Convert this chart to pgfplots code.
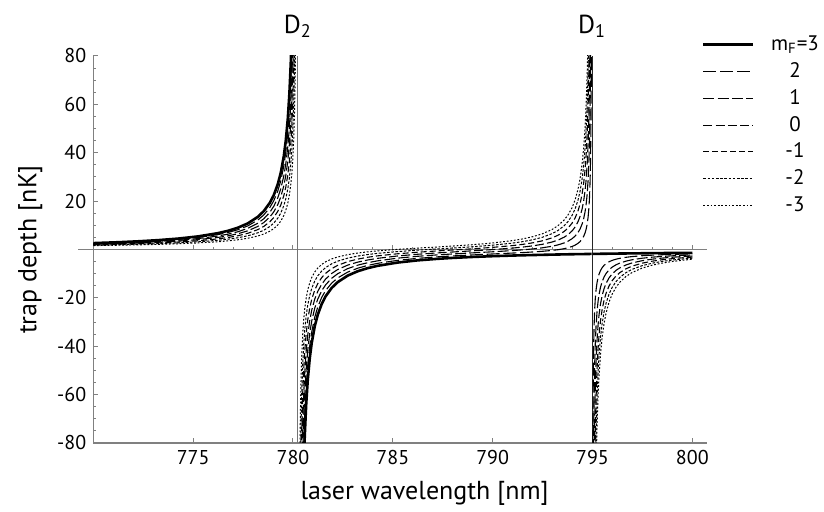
\documentclass[border=0pt]{standalone}
\usepackage{pgfplots}
\usepackage{pgfplotstable}
\usepackage{fontspec}
\setmainfont{PT Sans}
\pgfplotsset{compat=1.18}

% branch below the D2 line
\pgfplotstableread[row sep=\\]{
x m3 m2 m1 m0 n1 n2 n3\\
770.00 2.64 2.46 2.29 2.12 1.95 1.77 1.60\\
771.24 3.00 2.79 2.59 2.38 2.17 1.97 1.76\\
772.24 3.38 3.13 2.89 2.65 2.40 2.16 1.92\\
773.24 3.86 3.57 3.28 2.99 2.70 2.40 2.11\\
774.24 4.50 4.15 3.79 3.43 3.08 2.72 2.37\\
775.24 5.40 4.95 4.50 4.06 3.61 3.16 2.71\\
776.24 6.75 6.16 5.57 4.98 4.39 3.80 3.21\\
776.74 7.71 7.02 6.33 5.64 4.94 4.25 3.56\\
777.24 9.00 8.17 7.34 6.51 5.68 4.85 4.01\\
777.74 10.80 9.77 8.75 7.72 6.70 5.67 4.64\\
778.24 13.50 12.18 10.86 9.54 8.22 6.90 5.58\\
778.54 15.88 14.30 12.72 11.14 9.55 7.97 6.39\\
778.84 19.29 17.33 15.37 13.42 11.46 9.50 7.54\\
779.04 22.50 20.19 17.88 15.57 13.25 10.94 8.63\\
779.24 27.00 24.19 21.38 18.57 15.76 12.95 10.14\\
779.39 31.76 28.43 25.09 21.75 18.42 15.08 11.74\\
779.54 38.57 34.48 30.39 26.30 22.21 18.11 14.02\\
779.64 45.00 40.20 35.39 30.59 25.78 20.98 16.17\\
779.74 54.00 48.20 42.39 36.59 30.79 24.99 19.18\\
779.82 64.29 57.34 50.40 43.45 36.51 29.56 22.62\\
779.89 77.14 68.77 60.40 52.03 43.65 35.28 26.91\\
779.94 90.00 80.20 70.40 60.60 50.80 41.00 31.20\\
779.99 108.00 96.20 84.40 72.60 60.80 49.00 37.20\\
780.04 135.00 120.20 105.40 90.60 75.80 61.00 46.20\\
780.08 168.75 150.20 131.65 113.10 94.56 76.01 57.46\\
780.11 207.69 184.82 161.94 139.07 116.19 93.32 70.44\\
780.14 270.00 240.20 210.40 180.61 150.81 121.01 91.21\\
780.16 337.50 300.20 262.90 225.61 188.31 151.01 113.71\\
}\tabA

% branch between D2 and D1
\pgfplotstableread[row sep=\\]{
x m3 m2 m1 m0 n1 n2 n3\\
780.32 -337.50 -299.80 -262.09 -224.39 -186.68 -148.98 -111.27\\
780.34 -270.00 -239.79 -209.59 -179.39 -149.18 -118.98 -88.77\\
780.37 -207.69 -184.41 -161.13 -137.85 -114.56 -91.28 -68.00\\
780.40 -168.75 -149.79 -130.84 -111.88 -92.93 -73.97 -55.02\\
780.44 -135.00 -119.79 -104.59 -89.38 -74.17 -58.97 -43.76\\
780.49 -108.00 -95.79 -83.59 -71.38 -59.17 -46.97 -34.76\\
780.54 -90.00 -79.79 -69.59 -59.38 -49.17 -38.96 -28.75\\
780.59 -77.14 -68.36 -59.58 -50.80 -42.02 -33.24 -24.46\\
780.66 -64.29 -56.93 -49.58 -42.23 -34.88 -27.52 -20.17\\
780.74 -54.00 -47.79 -41.58 -35.37 -29.16 -22.95 -16.74\\
780.84 -45.00 -39.79 -34.58 -29.36 -24.15 -18.94 -13.73\\
780.94 -38.57 -34.07 -29.57 -25.07 -20.57 -16.07 -11.57\\
781.09 -31.76 -28.02 -24.27 -20.53 -16.78 -13.04 -9.29\\
781.24 -27.00 -23.78 -20.56 -17.35 -14.13 -10.91 -7.69\\
781.44 -22.50 -19.78 -17.06 -14.34 -11.61 -8.89 -6.17\\
781.64 -19.29 -16.92 -14.55 -12.18 -9.82 -7.45 -5.08\\
781.94 -15.88 -13.89 -11.89 -9.90 -7.90 -5.91 -3.91\\
782.24 -13.50 -11.76 -10.03 -8.29 -6.56 -4.82 -3.09\\
782.74 -10.80 -9.36 -7.91 -6.46 -5.02 -3.58 -2.13\\
783.24 -9.00 -7.74 -6.49 -5.23 -3.98 -2.72 -1.47\\
783.74 -7.71 -6.59 -5.47 -4.34 -3.22 -2.09 -0.97\\
784.24 -6.75 -5.72 -4.69 -3.66 -2.63 -1.60 -0.57\\
785.24 -5.40 -4.49 -3.58 -2.68 -1.77 -0.86 0.05\\
786.24 -4.50 -3.66 -2.81 -1.97 -1.13 -0.28 0.56\\
787.24 -3.86 -3.04 -2.22 -1.41 -0.59 0.22 1.04\\
787.98 -3.49 -2.67 -1.86 -1.04 -0.22 0.59 1.41\\
788.98 -3.09 -2.25 -1.40 -0.56 0.28 1.13 1.97\\
789.98 -2.77 -1.86 -0.96 -0.05 0.86 1.77 2.68\\
790.98 -2.51 -1.48 -0.46 0.57 1.60 2.63 3.66\\
791.48 -2.40 -1.28 -0.15 0.97 2.09 3.22 4.34\\
791.98 -2.30 -1.04 0.21 1.47 2.72 3.98 5.23\\
792.48 -2.21 -0.76 0.68 2.13 3.57 5.02 6.46\\
792.98 -2.12 -0.38 1.35 3.09 4.82 6.56 8.29\\
793.28 -2.07 -0.08 1.92 3.91 5.91 7.90 9.90\\
793.58 -2.02 0.34 2.71 5.08 7.45 9.82 12.18\\
793.78 -1.99 0.73 3.45 6.17 8.89 11.61 14.34\\
793.98 -1.97 1.25 4.47 7.69 10.91 14.13 17.35\\
794.13 -1.94 1.80 5.55 9.29 13.04 16.78 20.53\\
794.28 -1.92 2.58 7.08 11.58 16.07 20.57 25.07\\
794.38 -1.91 3.30 8.51 13.73 18.94 24.15 29.36\\
794.48 -1.90 4.31 10.53 16.74 22.95 29.16 35.37\\
794.56 -1.89 5.47 12.82 20.17 27.52 34.88 42.23\\
794.63 -1.88 6.90 15.68 24.46 33.24 42.02 50.80\\
794.68 -1.87 8.34 18.55 28.75 38.96 49.17 59.38\\
794.73 -1.86 10.34 22.55 34.76 46.97 59.17 71.38\\
794.78 -1.86 13.35 28.56 43.76 58.97 74.17 89.38\\
794.82 -1.85 17.10 36.06 55.02 73.97 92.93 111.88\\
794.85 -1.85 21.43 44.72 68.00 91.28 114.56 137.85\\
794.88 -1.84 28.36 58.57 88.77 118.97 149.18 179.38\\
794.90 -1.84 35.86 73.57 111.27 148.98 186.68 224.39\\
794.92 -1.84 48.37 98.57 148.77 198.98 249.18 299.39\\
794.935 -1.84 65.03 131.90 198.78 265.65 332.52 399.39\\
794.945 -1.84 84.08 170.00 255.92 341.84 427.75 513.67\\
794.955 -1.84 118.37 238.57 358.78 478.98 599.18 719.39\\
}\tabB

% branch above the D1 line
\pgfplotstableread[row sep=\\]{
x m3 m2 m1 m0 n1 n2 n3\\
795.005 -1.83 -121.63 -241.42 -361.22 -481.02 -600.81 -720.61\\
795.015 -1.83 -87.34 -172.85 -258.36 -343.87 -429.38 -514.89\\
795.025 -1.83 -68.29 -134.75 -201.22 -267.68 -334.15 -400.61\\
795.04 -1.82 -51.62 -101.42 -151.22 -201.01 -250.81 -300.61\\
795.06 -1.82 -39.12 -76.42 -113.71 -151.01 -188.31 -225.61\\
795.08 -1.82 -31.62 -61.42 -91.21 -121.01 -150.81 -180.61\\
795.11 -1.82 -24.69 -47.57 -70.44 -93.32 -116.19 -139.07\\
795.14 -1.81 -20.36 -38.91 -57.46 -76.01 -94.56 -113.10\\
795.18 -1.81 -16.61 -31.41 -46.20 -61.00 -75.80 -90.60\\
795.23 -1.80 -13.60 -25.40 -37.20 -49.00 -60.80 -72.60\\
795.28 -1.79 -11.59 -21.40 -31.20 -41.00 -50.80 -60.60\\
795.33 -1.79 -10.16 -18.53 -26.91 -35.28 -43.65 -52.02\\
795.40 -1.78 -8.73 -15.67 -22.62 -29.56 -36.51 -43.45\\
795.48 -1.77 -7.58 -13.38 -19.18 -24.98 -30.79 -36.59\\
795.58 -1.76 -6.56 -11.37 -16.17 -20.98 -25.78 -30.59\\
795.68 -1.75 -5.84 -9.93 -14.02 -18.11 -22.21 -26.30\\
795.83 -1.73 -5.07 -8.41 -11.74 -15.08 -18.42 -21.75\\
795.98 -1.72 -4.52 -7.33 -10.14 -12.95 -15.76 -18.57\\
796.18 -1.69 -4.01 -6.32 -8.63 -10.94 -13.25 -15.56\\
796.38 -1.67 -3.63 -5.59 -7.54 -9.50 -11.46 -13.42\\
796.68 -1.64 -3.23 -4.81 -6.39 -7.97 -9.55 -11.14\\
796.98 -1.61 -2.93 -4.25 -5.58 -6.90 -8.22 -9.54\\
797.48 -1.57 -2.59 -3.62 -4.64 -5.67 -6.70 -7.72\\
797.98 -1.52 -2.35 -3.18 -4.01 -4.85 -5.68 -6.51\\
798.48 -1.48 -2.17 -2.87 -3.56 -4.25 -4.94 -5.64\\
798.98 -1.44 -2.03 -2.62 -3.21 -3.80 -4.38 -4.98\\
799.48 -1.40 -1.91 -2.42 -2.94 -3.45 -3.96 -4.47\\
800.00 -1.37 -1.81 -2.26 -2.70 -3.15 -3.60 -4.04\\
}\tabC

\tikzset{
  cpA/.style={black, line width=1.3pt},
  cpB/.style={black, line width=0.55pt, dash pattern=on 6.5pt off 1.9pt},
  cpC/.style={black, line width=0.55pt, dash pattern=on 5.5pt off 1.6pt},
  cpD/.style={black, line width=0.55pt, dash pattern=on 4.5pt off 1.6pt},
  cpE/.style={black, line width=0.55pt, dash pattern=on 3pt off 1.5pt},
  cpF/.style={black, line width=0.5pt, dash pattern=on 1.3pt off 0.8pt},
  cpG/.style={black, line width=0.5pt, dash pattern=on 0.9pt off 0.9pt},
}

\begin{document}
\begin{tikzpicture}
\useasboundingbox (-46.65pt,-34pt) rectangle (365.35pt,221.5pt);

% zero line with its ticks
\begin{axis}[
  scale only axis, width=306.7pt, height=193.5pt,
  xmin=770, xmax=800.72, ymin=-80, ymax=80,
  axis x line=middle, axis y line=none,
  axis line style={gray, line width=0.6pt, -, shorten <=-7.5pt},
  xtick={775,780,...,800}, minor x tick num=4, xticklabels={},
  tick align=inside, major tick length=2.5pt, minor tick length=1.5pt,
  tick style={gray, line width=0.5pt},
]
\end{axis}

\begin{axis}[
  scale only axis, width=306.7pt, height=193.5pt,
  xmin=770, xmax=800.72, ymin=-80, ymax=80,
  axis x line*=bottom, axis y line*=left,
  axis line style={gray, line width=0.6pt, -},
  xtick={775,780,...,800},
  ytick={-80,-60,-40,-20,20,40,60,80},
  minor ytick={-75,-70,...,75},
  tick align=inside, major tick length=2.5pt, minor tick length=1.5pt,
  tick style={gray, line width=0.5pt},
  /pgf/number format/assume math mode=true,
  /pgf/number format/set thousands separator={},
  ticklabel style={font=\fontsize{10}{12}\selectfont},
  xlabel={laser wavelength [nm]},
  ylabel={trap depth [nK]},
  label style={font=\fontsize{13}{15}\selectfont},
  xlabel style={at={(axis description cs:0.54,-0.1292)}, anchor=center},
  ylabel style={at={(axis description cs:-0.1027,0.5)}, anchor=center},
  legend style={at={(axis description cs:0.9919,1.0649)}, anchor=north west,
    draw=none, fill=none, inner sep=0pt, row sep=0pt, column sep=8.2pt,
    nodes={inner sep=0pt, minimum height=13.4pt, font=\fontsize{10.5}{12}\selectfont}},
  legend cell align=center,
  legend image code/.code={\draw[#1] (0pt,0pt) -- (25pt,0pt);},
]
\addplot[black!55, line width=0.5pt, forget plot] coordinates {(780.24,-80) (780.24,80)};
\addplot[black!85, line width=0.5pt, forget plot] coordinates {(794.98,-80) (794.98,80)};

\addplot[cpG, forget plot] table[x=x, y=n3] {\tabA};
\addplot[cpG, forget plot] table[x=x, y=n3] {\tabB};
\addplot[cpG, forget plot] table[x=x, y=n3] {\tabC};
\addplot[cpF, forget plot] table[x=x, y=n2] {\tabA};
\addplot[cpF, forget plot] table[x=x, y=n2] {\tabB};
\addplot[cpF, forget plot] table[x=x, y=n2] {\tabC};
\addplot[cpE, forget plot] table[x=x, y=n1] {\tabA};
\addplot[cpE, forget plot] table[x=x, y=n1] {\tabB};
\addplot[cpE, forget plot] table[x=x, y=n1] {\tabC};
\addplot[cpD, forget plot] table[x=x, y=m0] {\tabA};
\addplot[cpD, forget plot] table[x=x, y=m0] {\tabB};
\addplot[cpD, forget plot] table[x=x, y=m0] {\tabC};
\addplot[cpC, forget plot] table[x=x, y=m1] {\tabA};
\addplot[cpC, forget plot] table[x=x, y=m1] {\tabB};
\addplot[cpC, forget plot] table[x=x, y=m1] {\tabC};
\addplot[cpB, forget plot] table[x=x, y=m2] {\tabA};
\addplot[cpB, forget plot] table[x=x, y=m2] {\tabB};
\addplot[cpB, forget plot] table[x=x, y=m2] {\tabC};
\addplot[cpA, forget plot] table[x=x, y=m3] {\tabA};
\addplot[cpA, forget plot] table[x=x, y=m3] {\tabB};
\addplot[cpA, forget plot] table[x=x, y=m3] {\tabC};

\addlegendimage{cpA}\addlegendentry{m\textsubscript{F}=3}
\addlegendimage{cpB}\addlegendentry{2}
\addlegendimage{cpC}\addlegendentry{1}
\addlegendimage{cpD}\addlegendentry{0}
\addlegendimage{cpE}\addlegendentry{-1}
\addlegendimage{cpF}\addlegendentry{-2}
\addlegendimage{cpG}\addlegendentry{-3}

\coordinate (DtwoTop) at (axis cs:780.24,80);
\coordinate (DoneTop) at (axis cs:794.98,80);
\end{axis}

\node[anchor=base, font=\fontsize{13}{15}\selectfont] at ([yshift=11.5pt]DtwoTop) {D\textsubscript{2}};
\node[anchor=base, font=\fontsize{13}{15}\selectfont] at ([yshift=11.5pt]DoneTop) {D\textsubscript{1}};
\end{tikzpicture}
\end{document}
